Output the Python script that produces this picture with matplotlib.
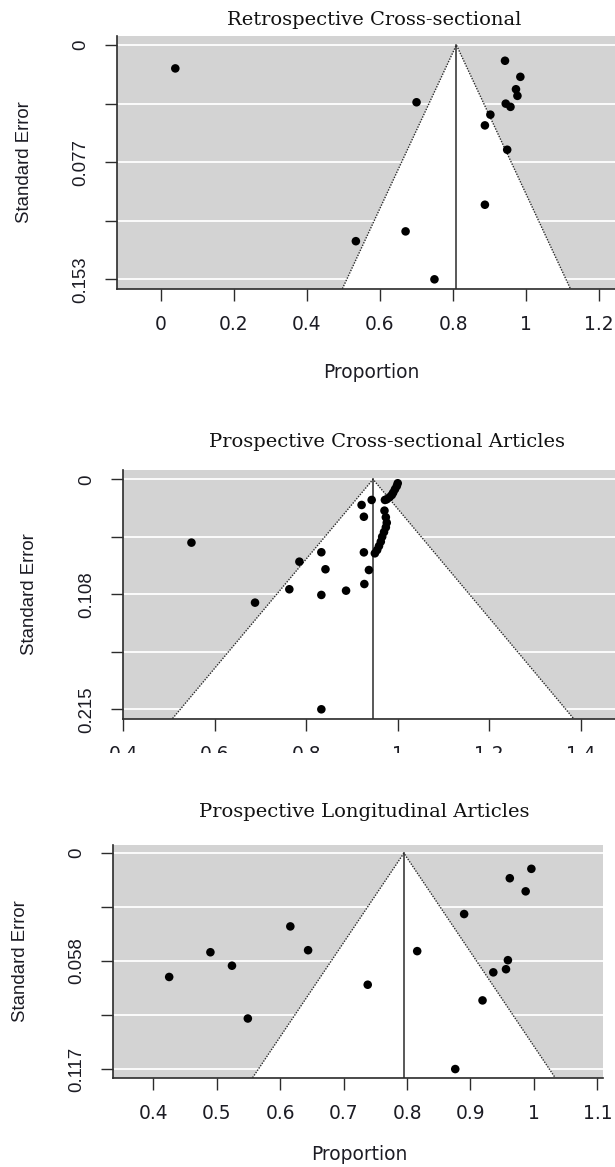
import matplotlib
matplotlib.use("Agg")
import matplotlib.pyplot as plt
from matplotlib.patches import Polygon, Rectangle
import numpy as np

W, H, DPI = 615, 1167, 100

# ---------------- data ----------------
# Panel 1: Retrospective Cross-sectional
retro_prop = [0.040, 0.942, 0.984, 0.972, 0.976, 0.700, 0.944, 0.957, 0.902,
              0.887, 0.948, 0.887, 0.670, 0.534, 0.749]
retro_se = [0.0153, 0.0103, 0.0208, 0.0289, 0.0332, 0.0374, 0.0383, 0.0404,
            0.0455, 0.0525, 0.0684, 0.1043, 0.1217, 0.1281, 0.153]
retro_est = 0.809
retro_semax = 0.153
retro_xticks = [0, 0.2, 0.4, 0.6, 0.8, 1.0, 1.2]
retro_xlabels = ["0", "0.2", "0.4", "0.6", "0.8", "1", "1.2"]
retro_ylabels = ["0", "", "0.077", "", "0.153"]

# Panel 2: Prospective Cross-sectional Articles
pcs_prop = [0.549, 0.688, 0.763, 0.785, 0.833, 0.842, 0.833, 0.833, 0.887,
            0.943, 0.921, 0.926, 0.926, 0.937, 0.927,
            0.972, 0.976, 0.982, 0.987, 0.990, 0.994, 0.998, 1.000,
            0.971, 0.974, 0.976, 0.974, 0.970, 0.966, 0.963, 0.959, 0.955, 0.950]
pcs_se = [0.0592, 0.1153, 0.1028, 0.0770, 0.0682, 0.0841, 0.1081, 0.215, 0.1041,
          0.0193, 0.0240, 0.0350, 0.0683, 0.0848, 0.0979,
          0.0193, 0.0187, 0.0168, 0.0147, 0.0125, 0.0093, 0.0063, 0.0037,
          0.0293, 0.0355, 0.0406, 0.0449, 0.0493, 0.0537, 0.0583, 0.0624, 0.0661, 0.0692]
pcs_est = 0.946
pcs_semax = 0.215
pcs_xticks = [0.4, 0.6, 0.8, 1.0, 1.2, 1.4]
pcs_xlabels = ["0.4", "0.6", "0.8", "1", "1.2", "1.4"]
pcs_ylabels = ["0", "", "0.108", "", "0.215"]

# Panel 3: Prospective Longitudinal Articles
pl_prop = [0.996, 0.962, 0.987, 0.890, 0.616, 0.644, 0.490, 0.816, 0.524,
           0.959, 0.956, 0.936, 0.425, 0.738, 0.919, 0.549, 0.876]
pl_se = [0.0085, 0.0136, 0.0207, 0.0330, 0.0397, 0.0526, 0.0537, 0.0531, 0.0610,
         0.0580, 0.0629, 0.0646, 0.0671, 0.0713, 0.0798, 0.0896, 0.117]
pl_est = 0.795
pl_semax = 0.117
pl_xticks = [0.4, 0.5, 0.6, 0.7, 0.8, 0.9, 1.0, 1.1]
pl_xlabels = ["0.4", "0.5", "0.6", "0.7", "0.8", "0.9", "1", "1.1"]
pl_ylabels = ["0", "", "0.058", "", "0.117"]

titles = ["Retrospective Cross-sectional",
          "Prospective Cross-sectional Articles",
          "Prospective Longitudinal Articles"]

# ---------------- style ----------------
BG = "#D3D3D3"
DARK = "#2b2b2b"
TXT = "#1c1c24"
SANS_H = "DejaVu Sans"
SANS_V = "Liberation Sans"
SERIF = "DejaVu Serif"
FS = 13.4
TFS = 14

fig = plt.figure(figsize=(W / DPI, H / DPI), dpi=DPI)
fig.patch.set_facecolor("white")


def add_axes_px(l, r, t, b):
    return fig.add_axes([l / W, 1 - b / H, (r - l) / W, (b - t) / H])


def funnel(ax, prop, se, est, semax, xlim, xticks, xlabels, ylabels):
    ylo = -0.04 * semax
    yhi = 1.04 * semax
    ax.set_xlim(*xlim)
    ax.set_ylim(yhi, ylo)
    ax.set_facecolor(BG)
    yt = np.linspace(0, semax, 5)
    for y in yt:
        ax.axhline(y, color="white", lw=1.3, zorder=1)
    xl, xr = est - 1.96 * yhi, est + 1.96 * yhi
    ax.add_patch(Polygon([(xl, yhi), (est, 0), (xr, yhi)], closed=True,
                         facecolor="white", edgecolor="none", zorder=2))
    ax.plot([xl, est, xr], [yhi, 0, yhi], ls=(0, (1, 1)), color=DARK, lw=1.0, zorder=3)
    ax.plot([est, est], [0, yhi], color=DARK, lw=1.1, zorder=3)
    ax.scatter(prop, se, s=38, color="black", edgecolors="none", zorder=4)
    for s in ["top", "right"]:
        ax.spines[s].set_visible(False)
    for s in ["left", "bottom"]:
        ax.spines[s].set_color(DARK)
        ax.spines[s].set_linewidth(1.2)
    ax.set_xticks(xticks)
    ax.set_xticklabels(xlabels, fontfamily=SANS_H, fontsize=FS, color=TXT)
    ax.set_yticks(yt)
    ax.set_yticklabels(ylabels, fontfamily=SANS_V, fontsize=FS, color=TXT,
                       rotation=90, va="center")
    ax.tick_params(axis="both", length=8.6, width=1.0, color=DARK)
    ax.tick_params(axis="x", pad=10.5)
    ax.tick_params(axis="y", pad=11.5)


# Panel 1
l, r, t, b = 117.3, 625.0, 35.6, 288.7
ax1 = add_axes_px(l, r, t, b)
funnel(ax1, retro_prop, retro_se, retro_est, retro_semax, (-0.1187, 1.2703),
       retro_xticks, retro_xlabels, retro_ylabels)
fig.text(374 / W, 1 - 20 / H, titles[0], family=SERIF, fontsize=TFS,
         ha="center", va="center", color="#111")
fig.text((l - 93) / W, 1 - (t + b) / 2 / H, "Standard Error", family=SANS_V,
         fontsize=FS, rotation=90, ha="center", va="center", color=TXT)
fig.text(371 / W, 1 - 372 / H, "Proportion", family=SANS_H, fontsize=FS,
         ha="center", va="center", color=TXT)

# Panel 2
l, r, t, b = 122.7, 651.0, 470.1, 718.5
ax2 = add_axes_px(l, r, t, b)
funnel(ax2, pcs_prop, pcs_se, pcs_est, pcs_semax, (0.3987, 1.5537),
       pcs_xticks, pcs_xlabels, pcs_ylabels)
fig.text(387 / W, 1 - 441.7 / H, titles[1], family=SERIF, fontsize=TFS,
         ha="center", va="center", color="#111")
fig.text((l - 93) / W, 1 - (t + b) / 2 / H, "Standard Error", family=SANS_V,
         fontsize=FS, rotation=90, ha="center", va="center", color=TXT)
# the source image crops the lower part of this panel's tick labels
fig.add_artist(Rectangle((0, 1 - 790 / H), 1, (790 - 753) / H,
                         transform=fig.transFigure, facecolor="white",
                         edgecolor="none", zorder=10))

# Panel 3
l, r, t, b = 113.3, 603.3, 844.5, 1077.7
ax3 = add_axes_px(l, r, t, b)
funnel(ax3, pl_prop, pl_se, pl_est, pl_semax, (0.3369, 1.1094),
       pl_xticks, pl_xlabels, pl_ylabels)
fig.text(364 / W, 1 - 811.7 / H, titles[2], family=SERIF, fontsize=TFS,
         ha="center", va="center", color="#111")
fig.text((l - 93) / W, 1 - (t + b) / 2 / H, "Standard Error", family=SANS_V,
         fontsize=FS, rotation=90, ha="center", va="center", color=TXT)
fig.text(359 / W, 1 - 1155 / H, "Proportion", family=SANS_H, fontsize=FS,
         ha="center", va="center", color=TXT)

fig.savefig("out.png", dpi=DPI)
